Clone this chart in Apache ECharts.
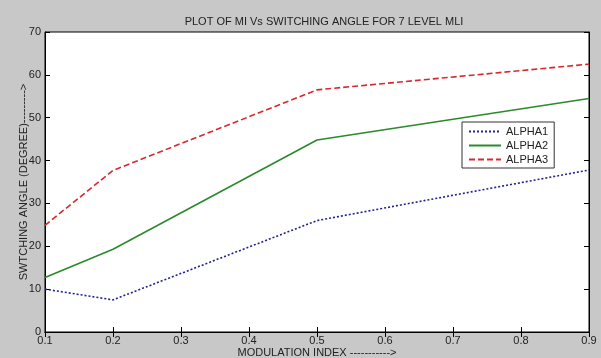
<!DOCTYPE html>
<html>
<head>
<meta charset="utf-8">
<script src="https://cdn.jsdelivr.net/npm/echarts@6/dist/echarts.min.js"></script>
<style>
html,body{margin:0;padding:0;background:#c8c8c8;}
#chart{width:601px;height:358px;}
</style>
</head>
<body>
<div id="chart"></div>
<script>
// Data
const modulationIndex = [0.1, 0.2, 0.5, 0.9];
const alpha1 = [10.0, 7.5, 26.0, 37.8];
const alpha2 = [12.7, 19.3, 44.8, 54.5];
const alpha3 = [24.9, 37.7, 56.5, 62.5];
const seriesNames = ['ALPHA1', 'ALPHA2', 'ALPHA3'];
const xTicks = [0.1, 0.2, 0.3, 0.4, 0.5, 0.6, 0.7, 0.8, 0.9];
const yTicks = [0, 10, 20, 30, 40, 50, 60, 70];

function pairs(ys) { return modulationIndex.map((x, i) => [x, ys[i]]); }

const chart = echarts.init(document.getElementById('chart'), null, {renderer: 'canvas'});
const font = 'Liberation Sans, Arial, sans-serif';
const tickStyle = {show: true, inside: true, length: 5, lineStyle: {color: '#000', width: 1}};

chart.setOption({
  backgroundColor: '#c8c8c8',
  animation: false,
  title: {
    text: 'PLOT OF MI Vs SWITCHING ANGLE FOR 7 LEVEL MLI',
    left: 319, top: 11, textAlign: 'center',
    textStyle: {fontFamily: font, fontSize: 11, fontWeight: 'normal', color: '#222'}
  },
  grid: {left: 45, right: 12, top: 32, bottom: 26, show: true, backgroundColor: '#fff', borderColor: '#000', borderWidth: 1,
         containLabel: false, outerBoundsMode: 'none'},
  legend: {
    data: seriesNames,
    orient: 'vertical',
    left: 462, top: 122,
    padding: [4, 6, 3, 6],
    itemGap: 3,
    itemWidth: 32, itemHeight: 11,
    backgroundColor: '#fff',
    borderColor: '#333', borderWidth: 1,
    itemStyle: {opacity: 0},
    textStyle: {fontFamily: font, fontSize: 11, color: '#222'}
  },
  xAxis: [{
    type: 'value', min: xTicks[0], max: xTicks[xTicks.length - 1], interval: 0.1,
    position: 'bottom',
    name: 'MODULATION INDEX ----------->', nameLocation: 'middle', nameGap: 15, nameMoveOverlap: false,
    nameTextStyle: {fontFamily: font, fontSize: 11, color: '#222'},
    axisLine: {show: true, lineStyle: {color: '#000'}},
    axisTick: tickStyle,
    splitLine: {show: false},
    axisLabel: {fontFamily: font, fontSize: 11, color: '#222', margin: 3, formatter: v => v.toFixed(1)}
  }, {
    type: 'value', min: xTicks[0], max: xTicks[xTicks.length - 1], interval: 0.1,
    position: 'top',
    axisLine: {show: true, lineStyle: {color: '#000'}},
    axisTick: tickStyle,
    splitLine: {show: false},
    axisLabel: {show: false}
  }],
  yAxis: [{
    type: 'value', min: yTicks[0], max: yTicks[yTicks.length - 1], interval: 10,
    position: 'left',
    name: 'SWTCHING ANGLE (DEGREE)--------->', nameLocation: 'middle', nameGap: 16, nameMoveOverlap: false,
    nameTextStyle: {fontFamily: font, fontSize: 11, color: '#222'},
    axisLine: {show: true, lineStyle: {color: '#000'}},
    axisTick: tickStyle,
    splitLine: {show: false},
    axisLabel: {fontFamily: font, fontSize: 11, color: '#222', margin: 4}
  }, {
    type: 'value', min: yTicks[0], max: yTicks[yTicks.length - 1], interval: 10,
    position: 'right',
    axisLine: {show: true, lineStyle: {color: '#000'}},
    axisTick: tickStyle,
    splitLine: {show: false},
    axisLabel: {show: false}
  }],
  series: [
    {name: seriesNames[0], type: 'line', data: pairs(alpha1), symbol: 'none',
     color: '#22228f', lineStyle: {type: [2, 2], width: 1.6, color: '#22228f'}},
    {name: seriesNames[1], type: 'line', data: pairs(alpha2), symbol: 'none',
     color: '#2b8a2b', lineStyle: {type: 'solid', width: 1.6, color: '#2b8a2b'}},
    {name: seriesNames[2], type: 'line', data: pairs(alpha3), symbol: 'none',
     color: '#d42a2f', lineStyle: {type: [6, 3], width: 1.6, color: '#d42a2f'}}
  ]
});
</script>
</body>
</html>
